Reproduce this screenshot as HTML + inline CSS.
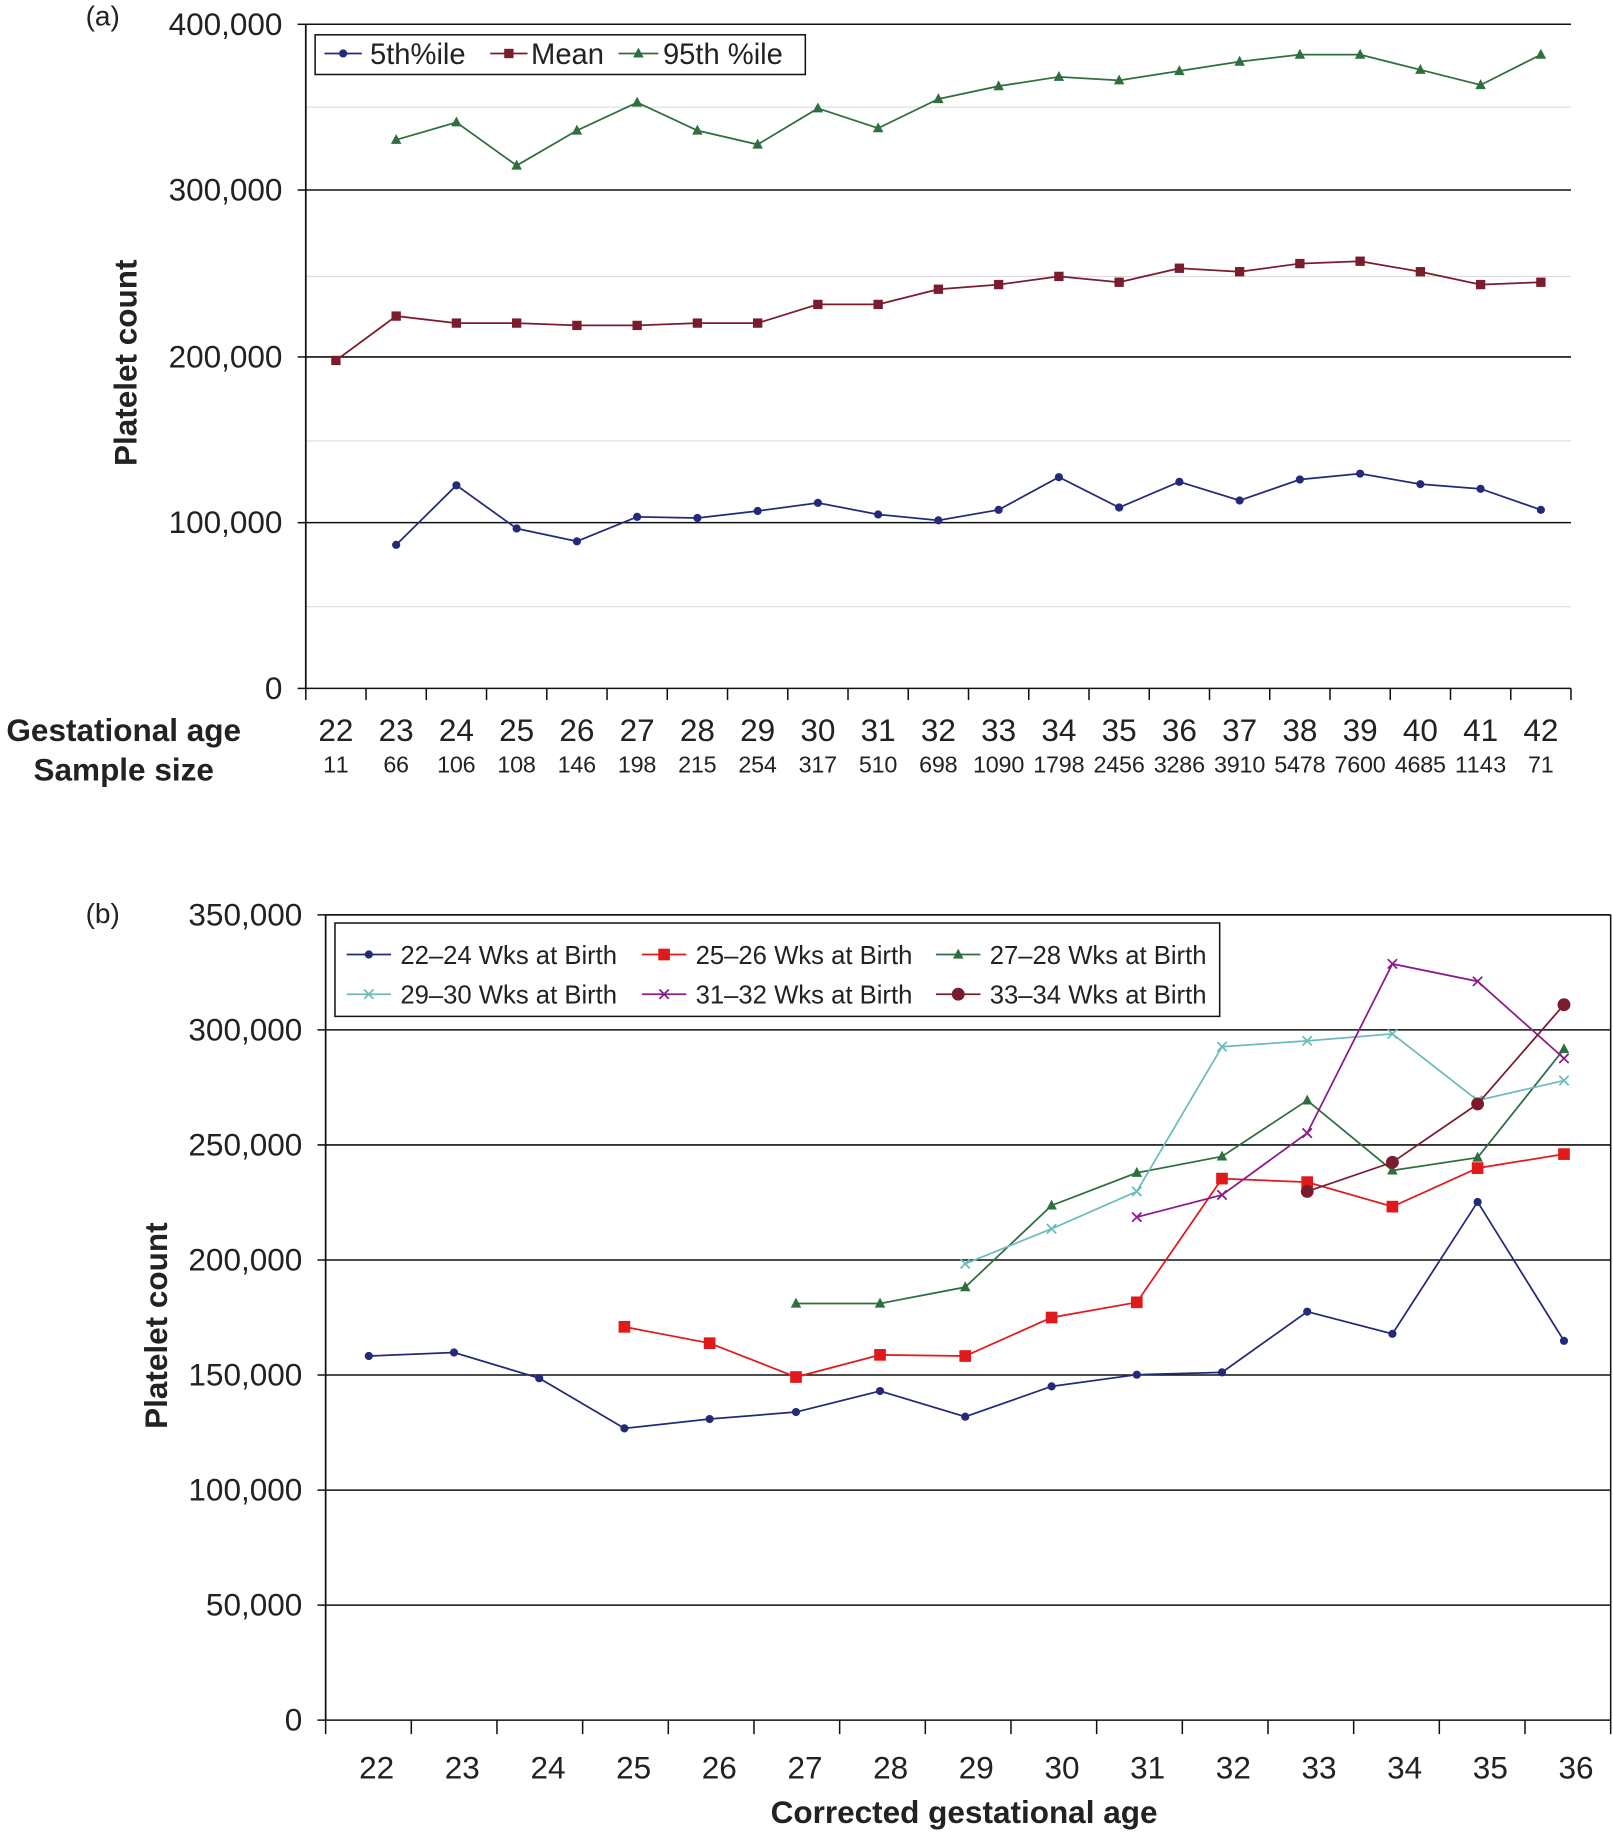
<!DOCTYPE html>
<html><head><meta charset="utf-8"><style>
html,body{margin:0;padding:0;background:#fff}
svg{display:block}
text{font-family:"Liberation Sans",Arial,sans-serif;fill:#222}
</style></head><body>
<svg id="s" width="1613" height="1832" viewBox="0 0 1382 1568" xmlns="http://www.w3.org/2000/svg"></svg>
<script>
const s=document.getElementById('s');let h='';
function L(x1,y1,x2,y2,c,w){h+=`<line x1="${x1}" y1="${y1}" x2="${x2}" y2="${y2}" stroke="${c}" stroke-width="${w}"/>`;}
function T(x,y,t,sz,a,b,extra){h+=`<text x="${x}" y="${y}" font-size="${sz}" text-anchor="${a||'middle'}" ${b?'font-weight="bold"':''} ${extra||''}>${t}</text>`;}
function mk(type,x,y,c){
 if(type=='o')h+=`<circle cx="${x}" cy="${y}" r="3.5" fill="${c}"/>`;
 else if(type=='O')h+=`<circle cx="${x}" cy="${y}" r="5.5" fill="${c}"/>`;
 else if(type=='s')h+=`<rect x="${x-4}" y="${y-4}" width="8" height="8" fill="${c}"/>`;
 else if(type=='S')h+=`<rect x="${x-5}" y="${y-5}" width="10" height="10" fill="${c}"/>`;
 else if(type=='t')h+=`<polygon points="${x},${y-5} ${x+4.5},${y+3.5} ${x-4.5},${y+3.5}" fill="${c}"/>`;
 else if(type=='x')h+=`<path d="M${x-4} ${y-4}L${x+4} ${y+4}M${x-4} ${y+4}L${x+4} ${y-4}" stroke="${c}" stroke-width="1.5"/>`;
}
function ser(pts,c,m,w){h+=`<polyline fill="none" stroke="${c}" stroke-width="${w||1.5}" points="${pts.map(p=>p.join(',')).join(' ')}"/>`;pts.forEach(p=>mk(m,p[0],p[1],c));}
const ax0=262,ax1=1346,ay0=589,ay4=20;
[91,236,377,519].forEach(y=>L(ax0,y,ax1,y,'#ddd',1));
[[20,'400,000'],[162,'300,000'],[305,'200,000'],[447,'100,000'],[589,'0']].forEach(([y,t])=>{L(ax0,y,ax1,y,'#111',1.3);T(242,y+9,t,27,'end');L(ax0-7,y,ax0,y,'#111',1.3)});
L(ax0,ay4,ax0,ay0,'#111',1.5);
const cw=(ax1-ax0)/21;
for(let i=0;i<=21;i++)L(ax0+cw*i,ay0,ax0+cw*i,ay0+10,'#111',1.3);
const ss=[11,66,106,108,146,198,215,254,317,510,698,1090,1798,2456,3286,3910,5478,7600,4685,1143,71];
for(let i=0;i<21;i++){const x=ax0+cw*(i+.5);T(x,634,22+i,27);T(x,661,ss[i],20,'middle',false,'textLength="'+(String(ss[i]).length>3?44:String(ss[i]).length*11)+'"');}
T(106,634,'Gestational age',27,'middle',true);T(106,668,'Sample size',27,'middle',true);
T(88,21,'(a)',24);
h+=`<text x="0" y="0" font-size="27" font-weight="bold" text-anchor="middle" transform="translate(117,310) rotate(-90)">Platelet count</text>`;
const cx=i=>ax0+cw*(i+.5);
const p5=[466,415,452,463,442,443,437,430,440,445,436,408,434,412,428,410,405,414,418,436];
const pm=[308,270,276,276,278,278,276,276,260,260,247,243,236,241,229,232,225,223,232,243,241];
const p95=[119,104,141,111,87,111,123,92,109,84,73,65,68,60,52,46,46,59,72,46];
ser(pm.map((y,i)=>[cx(i),y]),'#7b1c2c','s');
ser(p5.map((y,i)=>[cx(i+1),y]),'#232a7a','o');
ser(p95.map((y,i)=>[cx(i+1),y]),'#2f6e3e','t');
h+=`<rect x="270" y="29" width="420" height="34" fill="#fff" stroke="#111" stroke-width="1.3"/>`;
L(278,45,310,45,'#232a7a',1.5);mk('o',294,45,'#232a7a');T(317,54,'5th%ile',25,'start');
L(420,45,452,45,'#7b1c2c',1.5);mk('s',436,45,'#7b1c2c');T(455,54,'Mean',25,'start');
L(530,45,564,45,'#2f6e3e',1.5);mk('t',547,45,'#2f6e3e');T(568,54,'95th %ile',25,'start');
const bx0=279,bx1=1380,by0=1473,bs=98.57/50000;
const by=v=>by0-v*bs;
L(bx0,783,bx1,783,'#111',1.3);L(bx1,783,bx1,by0,'#111',1.3);
for(let v=0;v<=350000;v+=50000){const y=by(v);L(bx0-7,y,bx1,y,'#111',1.3);T(259,y+9,v==0?'0':v.toLocaleString('en-US'),27,'end');}
L(bx0,783,bx0,by0,'#111',1.5);
const bw=(bx1-bx0)/15;
for(let i=0;i<=15;i++)L(bx0+bw*i,by0,bx0+bw*i,by0+12,'#111',1.3);
for(let i=0;i<15;i++)T(bx0+bw*(i+.5)+7,1523,22+i,27);
T(826,1561,'Corrected gestational age',27,'middle',true);
T(88,790,'(b)',24);
h+=`<text x="0" y="0" font-size="27" font-weight="bold" text-anchor="middle" transform="translate(143,1135) rotate(-90)">Platelet count</text>`;
const X=[316,389,462,535,608,682,754,827,901,974,1047,1120,1193,1266,1340];
const mp=(st,ys)=>ys.map((y,i)=>[X[st+i],y]);
ser(mp(0,[1161,1158,1180,1223,1215,1209,1191,1213,1187,1177,1175,1123,1142,1029,1148]),'#232a7a','o');
ser(mp(3,[1136,1150,1179,1160,1161,1128,1115,1009,1012,1033,1000,988]),'#e01a1a','S');
ser(mp(5,[1116,1116,1102,1032,1004,990,942,1002,991,898]),'#2f6e3e','t');
ser(mp(7,[1082,1052,1020,896,891,885,942,925]),'#6cbcbc','x');
ser(mp(9,[1042,1023,970,825,840,906]),'#8a1a8a','x');
ser(mp(11,[1020,995,945,860]),'#7b1c2c','O');
h+=`<rect x="287" y="790" width="758" height="80" fill="#fff" stroke="#111" stroke-width="1.3"/>`;
const leg=[['22–24 Wks at Birth','#232a7a','o',297,817],['25–26 Wks at Birth','#e01a1a','S',550,817],['27–28 Wks at Birth','#2f6e3e','t',802,817],
['29–30 Wks at Birth','#6cbcbc','x',297,851],['31–32 Wks at Birth','#8a1a8a','x',550,851],['33–34 Wks at Birth','#7b1c2c','O',802,851]];
leg.forEach(([t,c,m,x,y])=>{L(x,y,x+38,y,c,1.5);mk(m,x+19,y,c);T(x+46,y+8,t,22,'start');});
s.innerHTML=h;
</script>
</body></html>
